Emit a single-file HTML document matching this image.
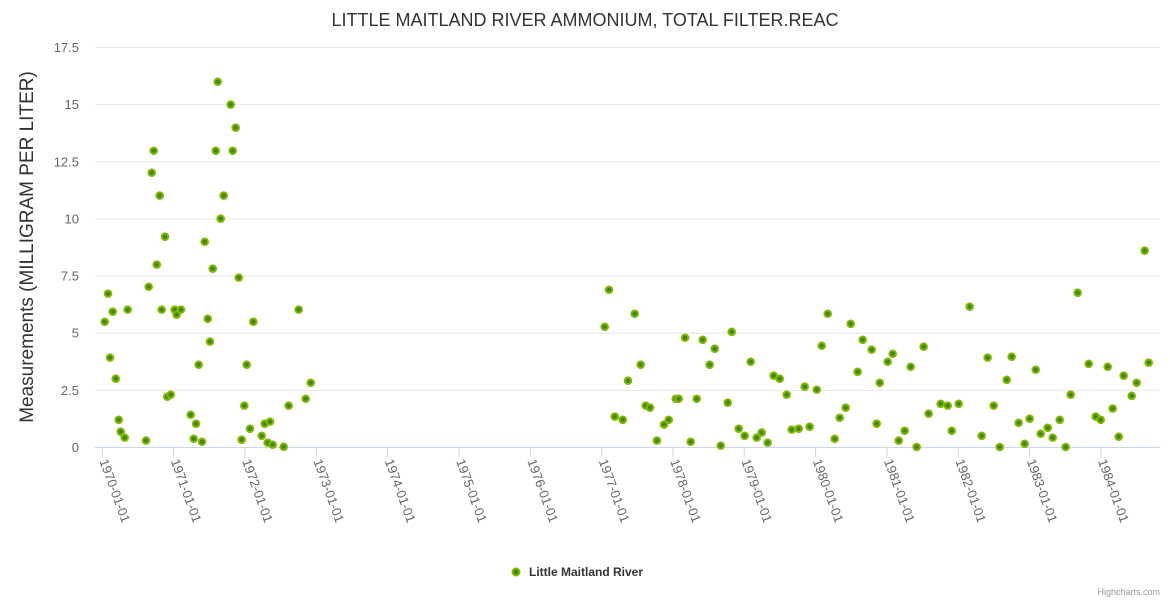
<!DOCTYPE html>
<html><head><meta charset="utf-8"><style>
body{margin:0;background:#fff;font-family:"Liberation Sans",sans-serif}
</style></head><body>
<svg id="chart" width="1170" height="600" xmlns="http://www.w3.org/2000/svg" font-family="Liberation Sans, sans-serif">
<rect width="1170" height="600" fill="#fff"/>
<text x="585" y="26" text-anchor="middle" font-size="18" fill="#333">LITTLE MAITLAND RIVER AMMONIUM, TOTAL FILTER.REAC</text>
<text transform="translate(33,247) rotate(-90)" text-anchor="middle" font-size="19" fill="#333">Measurements (MILLIGRAM PER LITER)</text>
<g id="grid"></g><g id="yticks"></g><g id="xticks"></g><g id="points"></g>
<g>
<circle cx="516" cy="572" r="3.5" fill="#3d8a00" stroke="#84b800" stroke-width="2"/>
<text x="529" y="576" font-size="12" font-weight="bold" fill="#333">Little Maitland River</text>
</g>
<text x="1160" y="595" text-anchor="end" font-size="9" fill="#999">Highcharts.com</text>
</svg>
<script>
const yTicks=[0,2.5,5,7.5,10,12.5,15,17.5];
const yTickLabels=["0","2.5","5","7.5","10","12.5","15","17.5"];
const xTickYears=[1970,1971,1972,1973,1974,1975,1976,1977,1978,1979,1980,1981,1982,1983,1984];
const xTickLabels=["1970-01-01","1971-01-01","1972-01-01","1973-01-01","1974-01-01","1975-01-01","1976-01-01","1977-01-01","1978-01-01","1979-01-01","1980-01-01","1981-01-01","1982-01-01","1983-01-01","1984-01-01"];
const dates=[1970.034,1970.08,1970.146,1970.108,1970.188,1970.23,1970.258,1970.314,1970.356,1970.613,1970.65,1970.693,1970.721,1970.763,1970.805,1970.833,1970.879,1970.911,1970.959,1971.015,1971.043,1971.103,1971.239,1971.281,1971.314,1971.351,1971.398,1971.436,1971.478,1971.51,1971.548,1971.59,1971.618,1971.66,1971.702,1971.8,1971.828,1971.87,1971.912,1971.954,1971.991,1972.024,1972.071,1972.117,1972.235,1972.277,1972.319,1972.351,1972.389,1972.543,1972.613,1972.753,1972.851,1972.922,
1977.043,1977.104,1977.184,1977.296,1977.37,1977.464,1977.548,1977.618,1977.678,1977.776,1977.875,1977.941,1978.039,1978.081,1978.169,1978.249,1978.333,1978.417,1978.515,1978.585,1978.67,1978.768,1978.824,1978.922,1979.006,1979.09,1979.174,1979.244,1979.328,1979.412,1979.497,1979.595,1979.665,1979.763,1979.847,1979.917,1980.016,1980.086,1980.17,1980.268,1980.338,1980.422,1980.492,1980.59,1980.66,1980.786,1980.856,1980.899,1981.011,1981.081,1981.165,1981.249,1981.333,1981.417,1981.515,1981.585,1981.754,1981.852,1981.908,1982.006,1982.16,1982.328,1982.412,1982.497,1982.581,1982.679,1982.749,1982.847,1982.931,1983.001,1983.086,1983.156,1983.254,1983.324,1983.422,1983.506,1983.576,1983.674,1983.829,1983.927,1983.997,1984.095,1984.165,1984.249,1984.319,1984.431,1984.501,1984.614,1984.67];
const values=[5.48,6.71,5.92,3.91,2.99,1.19,0.67,0.41,6.01,0.28,7.01,12.0,12.96,7.98,11.0,6.01,9.2,2.2,2.29,6.01,5.79,6.01,1.41,0.36,1.02,3.6,0.23,8.98,5.61,4.61,7.8,12.96,15.98,9.99,11.0,14.98,12.96,13.97,7.41,0.32,1.81,3.6,0.8,5.48,0.49,1.02,0.19,1.11,0.1,0.01,1.81,6.01,2.11,2.81,
5.26,6.88,1.33,1.19,2.9,5.83,3.6,1.81,1.72,0.28,0.98,1.19,2.11,2.11,4.78,0.23,2.11,4.69,3.6,4.3,0.06,1.94,5.04,0.8,0.49,3.73,0.41,0.63,0.19,3.12,2.99,2.29,0.76,0.8,2.64,0.89,2.51,4.43,5.83,0.36,1.28,1.72,5.39,3.29,4.69,4.26,1.02,2.81,3.73,4.08,0.28,0.71,3.51,0.0,4.39,1.46,1.89,1.81,0.71,1.89,6.14,0.49,3.91,1.81,0.0,2.94,3.95,1.06,0.14,1.24,3.38,0.58,0.84,0.41,1.19,0.0,2.29,6.75,3.64,1.33,1.19,3.51,1.68,0.45,3.12,2.24,2.81,8.59,3.69];
const NS="http://www.w3.org/2000/svg";
function yScale(v){return 447-v*(400/17.5);}
function xScale(yr){return 102.3+(yr-1970)*71.33;}
function mk(tag,attrs,parent){const e=document.createElementNS(NS,tag);for(const k in attrs)e.setAttribute(k,attrs[k]);parent.appendChild(e);return e;}
const grid=document.getElementById('grid'),yt=document.getElementById('yticks'),xt=document.getElementById('xticks'),pts=document.getElementById('points');
yTicks.forEach((v,i)=>{
  const l=mk('line',{x1:95,x2:1160,y1:yScale(v)+0.5,y2:yScale(v)+0.5,stroke:i==0?'#ccd6eb':'#e6e6e6','stroke-width':1},grid);
  
  
  const t=mk('text',{x:79,y:yScale(v)+5,'text-anchor':'end','font-size':13,fill:'#666'},yt);
  t.textContent=yTickLabels[i];
  
  
});
xTickYears.forEach((yr,i)=>{
  const x=xScale(yr);
  const l=mk('line',{x1:x,x2:x,y1:447,y2:457,stroke:'#ccd6eb','stroke-width':1},xt);
  
  
  const t=mk('text',{transform:'translate('+(x-3)+',461) rotate(70)','font-size':13,fill:'#666'},xt);
  t.textContent=xTickLabels[i];
  
  
});
dates.forEach((d,i)=>{
  const c=mk('circle',{cx:xScale(d),cy:yScale(values[i]),r:3.3,fill:'#3d8a00',stroke:'#84b800','stroke-width':2},pts);
  
  
});
</script>
</body></html>
